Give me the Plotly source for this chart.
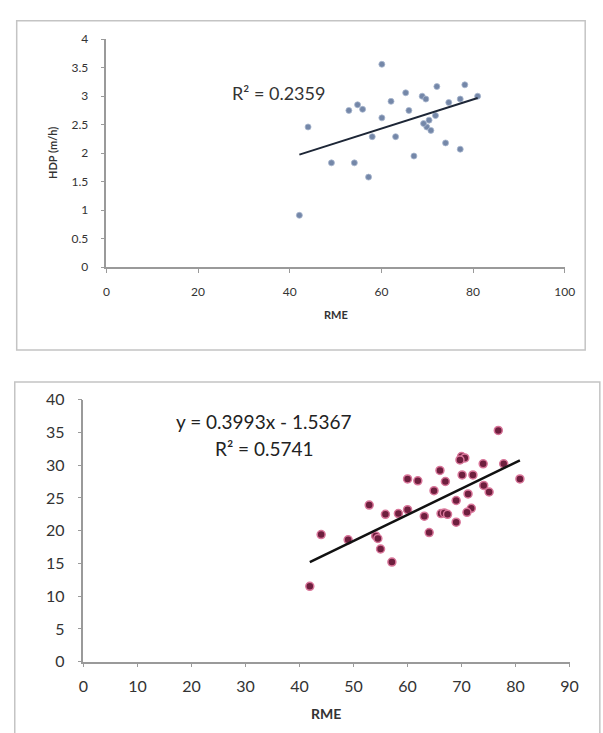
import numpy as np
import plotly.graph_objects as go

# Upper panel: RME vs HDP (m/h)
rme_hdp = [60.1, 78.2, 72.1, 65.3, 68.9, 69.7, 62.1, 74.7, 77.2, 81.0,
           54.8, 55.9, 52.9, 66.0, 60.1, 70.4, 69.9, 70.8, 71.8, 69.2,
           44.0, 58.0, 63.1, 74.0, 77.2, 67.1, 49.1, 54.1, 57.2, 42.1]
hdp = [3.56, 3.20, 3.17, 3.06, 3.00, 2.95, 2.91, 2.89, 2.95, 3.00,
       2.85, 2.77, 2.75, 2.75, 2.62, 2.58, 2.46, 2.40, 2.66, 2.52,
       2.46, 2.29, 2.29, 2.18, 2.07, 1.95, 1.83, 1.83, 1.58, 0.91]
hdp_r2_text = "R² = 0.2359"

# Lower panel: RME vs second outcome
rme_b = [76.8, 70.0, 70.6, 69.7, 74.0, 77.8, 80.8, 66.0, 70.1, 72.1,
         60.0, 61.9, 67.0, 74.1, 64.9, 71.2, 75.1, 69.0, 52.9, 55.9,
         58.3, 60.0, 66.2, 66.8, 67.4, 63.1, 71.8, 71.0, 69.0, 64.0,
         44.0, 49.0, 54.1, 55.0, 57.1, 41.9, 54.5]
val_b = [35.3, 31.3, 31.1, 30.8, 30.2, 30.2, 27.9, 29.2, 28.5, 28.5,
         27.9, 27.6, 27.5, 26.9, 26.1, 25.6, 25.9, 24.6, 23.9, 22.5,
         22.6, 23.2, 22.6, 22.7, 22.5, 22.2, 23.4, 22.8, 21.3, 19.7,
         19.4, 18.6, 19.2, 17.2, 15.2, 11.5, 18.8]
slope_b, intercept_b = 0.3993, -1.5367
r2_b_text = "R² = 0.5741"

W, H = 603, 733


def px(x):
    return x / W


def py(y):
    return 1 - y / H


# Least-squares line for the upper panel
m_a, c_a = np.polyfit(rme_hdp, hdp, 1)
xa = np.array([min(rme_hdp), max(rme_hdp)])
xb = np.array([min(rme_b), max(rme_b)])

fig = go.Figure()
fig.add_trace(go.Scatter(
    x=rme_hdp, y=hdp, mode="markers", xaxis="x", yaxis="y",
    marker=dict(size=6, color="#7487a8", line=dict(width=0.8, color="#aab8cf")),
    showlegend=False))
fig.add_trace(go.Scatter(
    x=xa, y=m_a * xa + c_a, mode="lines", xaxis="x", yaxis="y",
    line=dict(color="#1d2636", width=2), showlegend=False))
fig.add_trace(go.Scatter(
    x=rme_b, y=val_b, mode="markers", xaxis="x2", yaxis="y2",
    marker=dict(size=8, color="#6e1f3e", line=dict(width=1.5, color="#d9769a")),
    showlegend=False))
fig.add_trace(go.Scatter(
    x=xb, y=slope_b * xb + intercept_b, mode="lines", xaxis="x2", yaxis="y2",
    line=dict(color="#111111", width=2.5), showlegend=False))

axis_common = dict(showgrid=False, zeroline=False, showline=True,
                   linecolor="#9a9a9a", linewidth=1.5, ticks="outside",
                   ticklen=4, tickcolor="#9a9a9a", tickwidth=1)

fig.update_layout(
    width=W, height=H,
    margin=dict(l=0, r=0, t=0, b=0),
    paper_bgcolor="white", plot_bgcolor="white",
    font=dict(family="Lato, Open Sans, sans-serif", color="#333333"),
    xaxis=dict(domain=[px(104), px(574)], range=[0, 100], tick0=0, dtick=20,
               anchor="y", tickfont=dict(size=12), ticklabelstandoff=9,
               **axis_common),
    yaxis=dict(domain=[py(264), py(30)], range=[0, 4], tick0=0, dtick=0.5,
               anchor="x", tickfont=dict(size=12), ticklabelstandoff=10,
               **axis_common),
    xaxis2=dict(domain=[px(80.5), px(579)], range=[0, 90], tick0=0, dtick=10,
                anchor="y2", tickfont=dict(size=16), ticklabelstandoff=5,
                **axis_common),
    yaxis2=dict(domain=[py(669), py(400)], range=[0, 40], tick0=0, dtick=5,
                anchor="x2", tickfont=dict(size=16), ticklabelstandoff=10,
                **axis_common),
)

# Chart-area frames
fig.add_shape(type="rect", xref="paper", yref="paper",
              x0=px(12), x1=px(595), y0=py(349), y1=py(11),
              line=dict(color="#c4c4c4", width=1.5), layer="below")
fig.add_shape(type="rect", xref="paper", yref="paper",
              x0=px(10), x1=px(610), y0=py(745), y1=py(382),
              line=dict(color="#c4c4c4", width=1.5), layer="below")

annots = [
    dict(x=px(280), y=py(85), text=hdp_r2_text, font=dict(size=18, color="#333333")),
    dict(x=px(339), y=py(313), text="<b>RME</b>", font=dict(size=11, color="#333333")),
    dict(x=px(48), y=py(147), text="<b>HDP (m/h)</b>", textangle=-90,
         font=dict(size=11, color="#333333")),
    dict(x=px(266), y=py(422), text="y = 0.3993x - 1.5367",
         font=dict(size=19, color="#222222")),
    dict(x=px(266), y=py(450), text=r2_b_text, font=dict(size=19, color="#222222")),
    dict(x=px(329), y=py(722), text="<b>RME</b>", font=dict(size=14, color="#333333")),
]
for a in annots:
    fig.add_annotation(xref="paper", yref="paper", showarrow=False,
                       xanchor="center", yanchor="middle", **a)

fig.write_html("out.html")
